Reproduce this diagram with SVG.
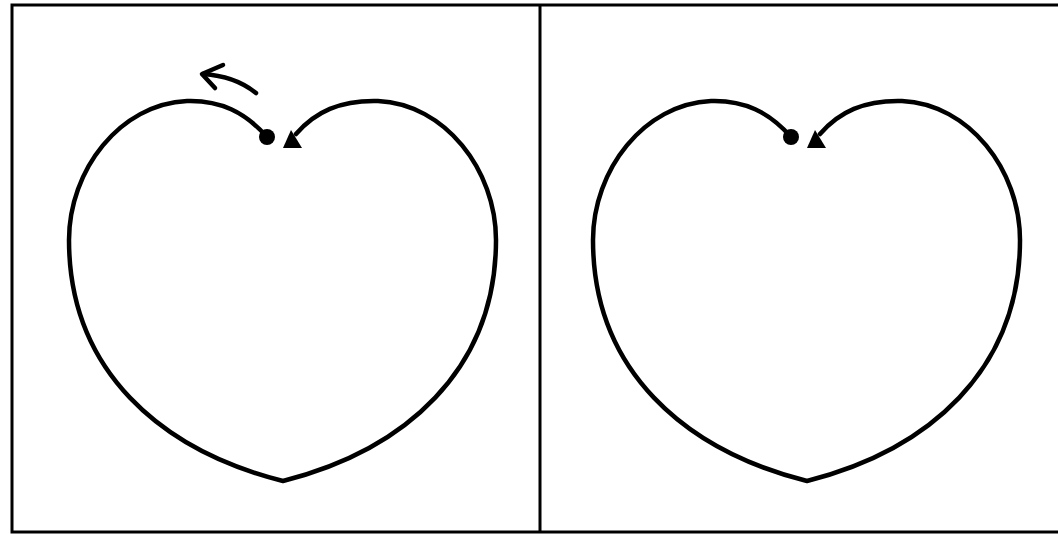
<svg xmlns="http://www.w3.org/2000/svg" width="1058" height="534" viewBox="0 0 1058 534">
<style>
.ln{fill:none;stroke:#000;stroke-width:4.5;stroke-linecap:round;stroke-linejoin:round}
.fr{fill:none;stroke:#000;stroke-width:3}
.mk{fill:#000;stroke:none}
</style>
<defs>
<g id="heart">
<path class="ln" d="M267,137 C245,112 220,100 187,101 C120,104 69,170 69,240 C69,370 160,450 283,481 C405,450 496,370 496,240 C496,170 445,104 378,101 C340,100 315,112 296,134"/>
<circle class="mk" cx="267" cy="137" r="8"/>
<polygon class="mk" points="291,130 283,148 302,148"/>
</g>
</defs>
<rect class="fr" x="12" y="5" width="1060" height="527"/>
<line class="fr" x1="540" y1="5" x2="540" y2="532"/>
<g id="left-panel">
<use href="#heart"/>
<path class="ln" d="M256,93 Q235,76 203,74"/>
<path class="ln" d="M223,65 L202,74 L215,88"/>
</g>
<g id="right-panel">
<use href="#heart" transform="translate(524,0)"/>
</g>
</svg>
